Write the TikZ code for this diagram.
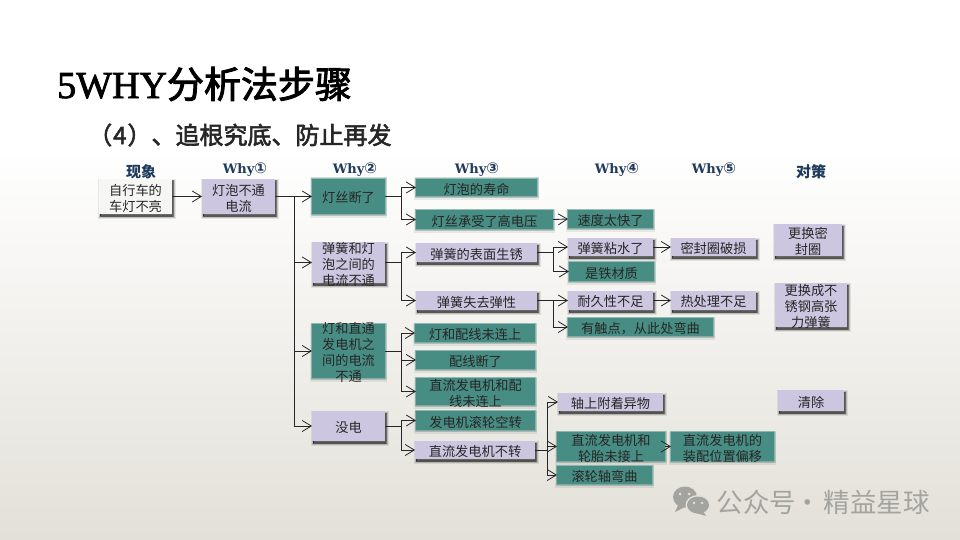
\documentclass[tikz,border=0pt]{standalone}
\usepackage{fontspec}
\setmainfont{Liberation Serif}
\newfontfamily\cjk{Noto Sans CJK SC}
\newfontfamily\hdr{DejaVu Serif}
\newfontfamily\circfont{DejaVu Sans}
\newfontfamily\titlelat[FakeBold=2]{Liberation Serif}
\newfontfamily\titlecjk[FakeBold=2.5]{Noto Sans CJK SC}
\usetikzlibrary{shadows,arrows.meta,calc}
\definecolor{tealbox}{HTML}{478D83}
\definecolor{purplebox}{HTML}{CDC6E0}
\definecolor{whitebox}{HTML}{F6F6F4}
\definecolor{bgbot}{HTML}{E2E0D8}
\definecolor{hdrcol}{HTML}{1F3A5C}
\definecolor{txt}{HTML}{262626}
\definecolor{wm}{HTML}{A3A3A0}
\tikzset{
  softshadow/.style={
    general shadow={shadow xshift=1pt,shadow yshift=-2.5pt,fill=black,draw=black,line width=5pt,opacity=.08},
    general shadow={shadow xshift=1pt,shadow yshift=-2.5pt,fill=black,draw=black,line width=3pt,opacity=.16},
    general shadow={shadow xshift=1pt,shadow yshift=-2pt,fill=black,draw=black,line width=1pt,opacity=.4}},
  bxtext/.style={inner sep=0pt,outer sep=0pt,align=center,yshift=-1.5pt,
    font=\cjk\fontsize{13.2}{16}\selectfont},
  bx/.style={inner sep=0pt,outer sep=0pt},
  pbox/.style={bx,softshadow,fill=purplebox},
  wbox/.style={bx,softshadow,fill=whitebox},
  tbox/.style={bx,fill=tealbox,
    general shadow={shadow xshift=0pt,shadow yshift=-1.5pt,fill=black,draw=black,line width=4pt,opacity=.07},
    general shadow={shadow xshift=0pt,shadow yshift=0pt,fill=tealbox,draw=tealbox,line width=3pt,opacity=.25},
    general shadow={shadow xshift=0pt,shadow yshift=0pt,fill=tealbox,draw=tealbox,line width=1.5pt,opacity=.4}},
  hd/.style={inner sep=0pt,text=hdrcol,font=\hdr\bfseries\fontsize{13}{15}\selectfont},
  hdc/.style={inner sep=0pt,text=hdrcol,font=\cjk\bfseries\fontsize{15}{17}\selectfont},
  link/.style={draw=black!85,line width=.9pt,-{Straight Barb[length=9pt,width=11pt,line width=.8pt]}},
}
% name, left, top, right, bottom, style, text
\newcommand{\bxn}[7]{\node[#6,minimum width=#4pt-#2pt,minimum height=#5pt-#3pt,
  label={[bxtext,text=txt]center:{#7}}] (#1) at ({(#2+#4)/2},{(#3+#5)/2}) {};}
\newcommand{\whyhd}[1]{Why{\circfont\bfseries\fontsize{15}{15}\selectfont #1}}
\begin{document}
\begin{tikzpicture}[x=1pt,y=-1pt]
\useasboundingbox (0,0) rectangle (960,540);
\fill[white] (0,0) rectangle (960,150);
\shade[top color=white,bottom color=bgbot] (0,150) rectangle (960,540);

\node[anchor=west,inner sep=0pt,font=\fontsize{37}{40}\selectfont] (title) at (57,84) {{\titlelat\fontsize{38}{40}\selectfont 5WHY}{\titlecjk 分析法步骤}};
\node[anchor=west,inner sep=0pt,font=\titlecjk\fontsize{24}{26}\selectfont,text=black!85] (sub) at (88,135) {（\kern1pt 4\kern1pt）、追根究底、防止再发};

\node[hdc] (h0) at (141,172) {现象};
\node[hd] (h1) at (245,169.5) {\whyhd{①}};
\node[hd] (h2) at (355,169.5) {\whyhd{②}};
\node[hd] (h3) at (477,169.5) {\whyhd{③}};
\node[hd] (h4) at (617,169.5) {\whyhd{④}};
\node[hd] (h5) at (714,169.5) {\whyhd{⑤}};
\node[hdc] (h6) at (811,172) {对策};

\bxn{a}{99}{179}{172}{214}{wbox}{自行车的\\车灯不亮}
\bxn{b}{202}{179}{275}{214}{pbox}{灯泡不通\\电流}

\bxn{c1}{312}{179}{385}{214}{tbox}{灯丝断了}
\bxn{c2}{312}{242}{385}{283}{pbox}{弹簧和灯\\泡之间的\\电流不通}
\bxn{c3}{312}{324}{385}{378}{tbox}{灯和直通\\发电机之\\间的电流\\不通}
\bxn{c4}{312}{411}{385}{441}{pbox}{没电}

\bxn{d1}{416}{179}{537}{196}{tbox}{灯泡的寿命}
\bxn{d2}{416}{210}{553}{229}{tbox}{灯丝承受了高电压}
\bxn{d3}{416}{243}{537}{262}{pbox}{弹簧的表面生锈}
\bxn{d4}{416}{291}{537}{310}{pbox}{弹簧失去弹性}
\bxn{d5}{415}{324}{535}{342}{tbox}{灯和配线未连上}
\bxn{d6}{416}{351}{535}{369}{tbox}{配线断了}
\bxn{d7}{416}{378}{535}{405}{tbox}{直流发电机和配\\线未连上}
\bxn{d8}{416}{411}{535}{430}{tbox}{发电机滚轮空转}
\bxn{d9}{415}{441}{535}{459}{pbox}{直流发电机不转}

\bxn{e1}{568}{210}{653}{228}{tbox}{速度太快了}
\bxn{e2}{568}{238}{653}{256}{pbox}{弹簧粘水了}
\bxn{e3}{569}{262}{654}{281}{tbox}{是铁材质}
\bxn{e4}{568}{291}{653}{310}{pbox}{耐久性不足}
\bxn{e5}{568}{318}{713}{336}{tbox}{有触点，从此处弯曲}
\bxn{e6}{558}{393}{663}{411}{pbox}{轴上附着异物}
\bxn{e7}{557}{432}{665}{461}{tbox}{直流发电机和\\轮胎未接上}
\bxn{e8}{557}{466}{652}{484}{tbox}{滚轮轴弯曲}

\bxn{f1}{671}{238}{756}{256}{pbox}{密封圈破损}
\bxn{f2}{671}{291}{756}{310}{pbox}{热处理不足}
\bxn{f3}{671}{432}{774}{461}{tbox}{直流发电机的\\装配位置偏移}

\bxn{g1}{774}{224}{842}{256}{pbox}{更换密\\封圈}
\bxn{g2}{775}{283}{847}{327}{pbox}{更换成不\\锈钢高张\\力弹簧}
\bxn{g3}{778}{390}{844}{411}{pbox}{清除}

% connectors
\draw[link] (a.east) -- (b.west);
\foreach \t in {c1,c2,c3,c4} \draw[link] (b.east) -- ++(19,0) |- (\t.west);
\foreach \t in {d1,d2} \draw[link] (c1.east) -- ++(16,0) |- (\t.west);
\foreach \t in {d3,d4} \draw[link] (c2.east) -- ++(16,0) |- (\t.west);
\foreach \t in {d5,d6,d7} \draw[link] (c3.east) -- ++(16,0) |- (\t.west);
\foreach \t in {d8,d9} \draw[link] (c4.east) -- ++(16,0) |- (\t.west);
\draw[link] (d2.east) -- (e1.west);
\foreach \t in {e2,e3} \draw[link] (d3.east) -- ++(16,0) |- (\t.west);
\foreach \t in {e4,e5} \draw[link] (d4.east) -- ++(16,0) |- (\t.west);
\foreach \t in {e6,e7,e8} \draw[link] (d9.east) -- ++(12,0) |- (\t.west);
\draw[link] (e2.east) -- (f1.west);
\draw[link] (e4.east) -- (f2.west);
\draw[link] (e7.east) -- (f3.west);

% watermark
\fill[wm] (685,497) ellipse (12pt and 10.5pt);
\fill[wm] (678,505) -- (675,512) -- (685,507) -- cycle;
\fill[bgbot!95!white] (698,505) ellipse (12.5pt and 10pt);
\fill[wm] (698,505) ellipse (11pt and 8.5pt);
\fill[wm] (703,511) -- (706,516) -- (696,513) -- cycle;
\fill[bgbot] (680,494) circle (1.5pt) (689,494) circle (1.5pt) (694,503) circle (1.4pt) (702,503) circle (1.4pt);
\node[anchor=west,inner sep=0pt,text=wm,font=\cjk\fontsize{26.5}{30}\selectfont] (wmark) at (716.5,502) {公众号\kern-2pt·\kern3pt精益星球};
\end{tikzpicture}
\end{document}
